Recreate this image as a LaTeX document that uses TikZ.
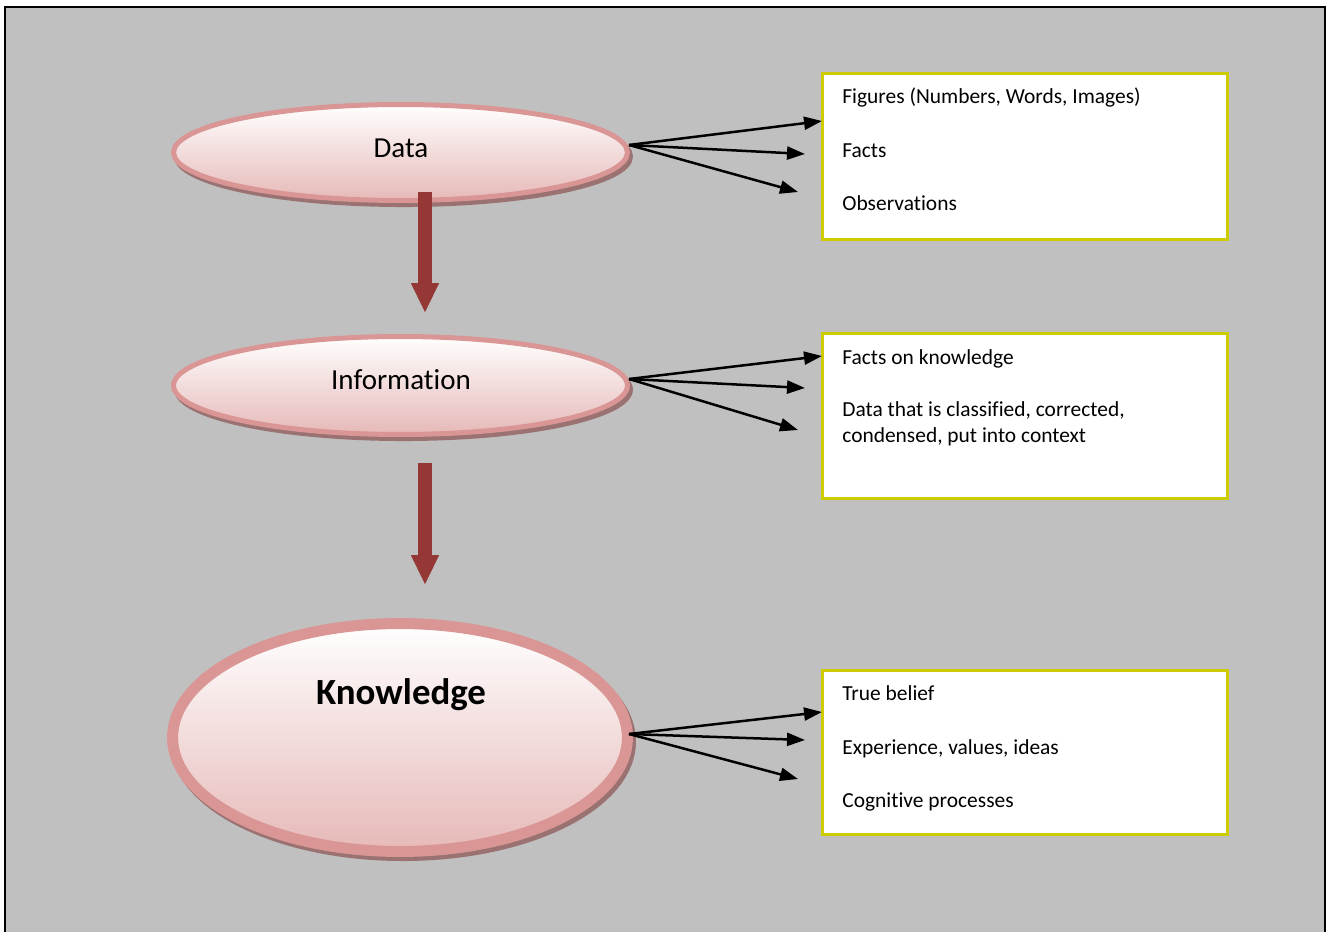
\documentclass[tikz,border=0pt]{standalone}
\usepackage{fontspec}
\setmainfont{Carlito}[Ligatures = {NoCommon, NoContextual}]
\usepackage{xcolor}
\usepackage{tikz}
\usetikzlibrary{arrows.meta}
\usetikzlibrary{positioning, shapes.geometric}
\definecolor{pagegray}{HTML}{C0C0C0}
\definecolor{ellrim}{HTML}{D99694}
\definecolor{ellbot}{HTML}{E6B9B8}
\definecolor{ellshadow}{HTML}{9A7272}
\definecolor{flowred}{HTML}{953735}
\definecolor{boxrim}{HTML}{CCCC00}
\tikzset{
level/.style = { ellipse, draw = ellrim, top color = white, bottom color = ellbot, inner sep = 0pt,
  preaction = {draw = ellshadow, fill = ellshadow, transform canvas = {xshift = 1.7pt, yshift = -2.3pt}} },
factbox/.style = { rectangle, draw = boxrim, fill = white, line width = 0.06cm, minimum width = 8.1cm, inner sep = 0pt },
fact/.style = { anchor = base west, inner sep = 0pt, font = \fontsize{12.2}{14.8}\selectfont },
flow/.style = { draw = flowred, line width = 0.28cm, -{Triangle[length = 0.6cm, width = 0.52cm]} },
spread/.style = { draw = black, line width = 0.05cm, -{Triangle[length = 0.36cm, width = 0.26cm]} },
}

\begin{document}
\begin{tikzpicture}[x=0.02cm, y=-0.02cm]
      \useasboundingbox (0,0) rectangle (1328,932);
      \begin{scope}
        \clip (0,0) rectangle (1328,932);
        \draw[fill = pagegray, line width = 0.04cm] (5,7) rectangle (1325,960);
      \end{scope}
      % the three levels
      \node[level, line width = 0.1cm, minimum width = 9.08cm, minimum height = 1.92cm] (data) at (400.5,152.5) {};
      \node[level, line width = 0.1cm, minimum width = 9.08cm, minimum height = 1.96cm] (info) at (400.5,385.5) {};
      \node[level, line width = 0.22cm, minimum width = 9.1cm, minimum height = 4.56cm] (know) at (400,737.5) {};
      \node[anchor = base, inner sep = 0pt, font = \fontsize{16.5}{20}\selectfont] (datatext) at (401,158) {Data};
      \node[anchor = base, inner sep = 0pt, font = \fontsize{16.5}{20}\selectfont] (infotext) at (401,389) {Information};
      \node[anchor = base, inner sep = 0pt, font = \fontsize{21}{25}\selectfont\bfseries] (knowtext) at (401,704) {Knowledge};
      % red arrows between levels
      \coordinate (di s) at (425,192);
      \coordinate (di e) at (425,313);
      \coordinate (ik s) at (425,463);
      \coordinate (ik e) at (425,585);
      \draw[flow] (di s) -- (di e);
      \draw[flow] (ik s) -- (ik e);
      % boxes
      \node[factbox, minimum height = 3.32cm] (box1) at (1025,156.5) {};
      \node[factbox, minimum height = 3.3cm] (box2) at (1025,416) {};
      \node[factbox, minimum height = 3.3cm] (box3) at (1025,752.5) {};
      \node[fact] (f11) at (842,104) {Figures (Numbers, Words, Images)};
      \node[fact] (f12) at (842,158) {Facts};
      \node[fact] (f13) at (842,211) {Observations};
      \node[fact] (f21) at (842,364) {Facts on knowledge};
      \node[fact] (f22) at (842,416) {Data that is classified, corrected,};
      \node[fact] (f23) at (842,442) {condensed, put into context};
      \node[fact] (f31) at (842,700) {True belief};
      \node[fact] (f32) at (842,754) {Experience, values, ideas};
      \node[fact] (f33) at (842,807) {Cognitive processes};
      % black arrows to the boxes
      \coordinate (data o) at (629,145);
      \coordinate (info o) at (629,379);
      \coordinate (know o) at (629,734);
      \coordinate (a11) at (822,121);
      \coordinate (a12) at (805,154);
      \coordinate (a13) at (798,192);
      \coordinate (a21) at (822,356);
      \coordinate (a22) at (805,388);
      \coordinate (a23) at (798,430);
      \coordinate (a31) at (822,712);
      \coordinate (a32) at (805,740);
      \coordinate (a33) at (798,779);
      \draw[spread] (data o) -- (a11);
      \draw[spread] (data o) -- (a12);
      \draw[spread] (data o) -- (a13);
      \draw[spread] (info o) -- (a21);
      \draw[spread] (info o) -- (a22);
      \draw[spread] (info o) -- (a23);
      \draw[spread] (know o) -- (a31);
      \draw[spread] (know o) -- (a32);
      \draw[spread] (know o) -- (a33);
\end{tikzpicture}
\end{document}
